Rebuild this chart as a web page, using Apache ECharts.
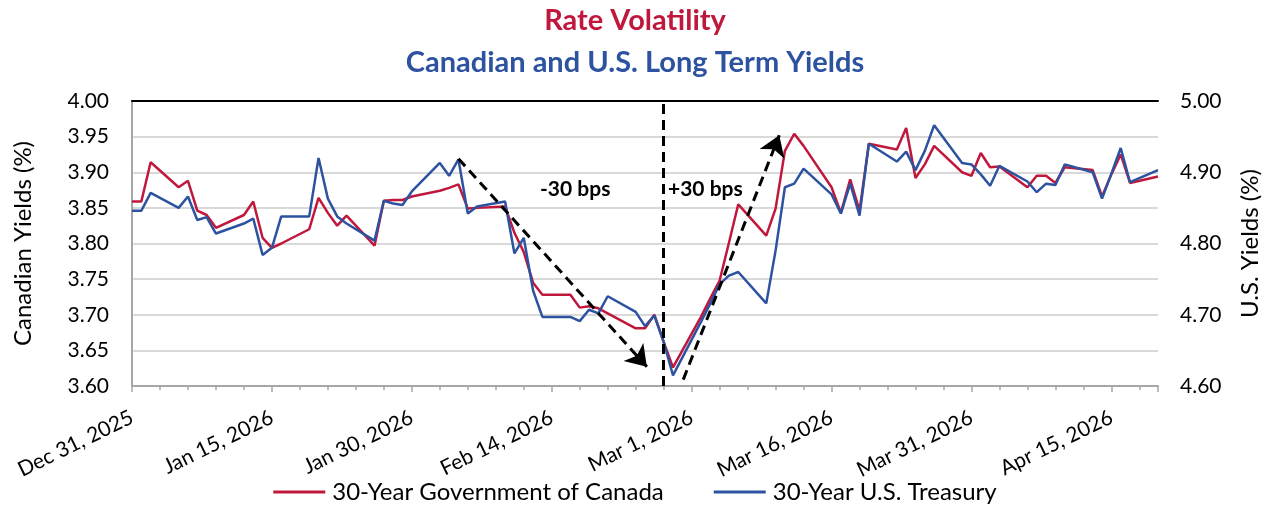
<!DOCTYPE html>
<html>
<head>
<meta charset="utf-8">
<script src="https://cdn.jsdelivr.net/npm/echarts@6/dist/echarts.min.js"></script>
<style>
html,body{margin:0;padding:0;background:#fff;}
#chart{width:1270px;height:509px;}
</style>
</head>
<body>
<div id="chart"></div>
<script>
const dates = [
'2025-12-31','2026-01-01','2026-01-02','2026-01-05','2026-01-06','2026-01-07','2026-01-08','2026-01-09',
'2026-01-12','2026-01-13','2026-01-14','2026-01-15','2026-01-16','2026-01-19','2026-01-20','2026-01-21',
'2026-01-22','2026-01-23','2026-01-26','2026-01-27','2026-01-28','2026-01-29','2026-01-30','2026-02-02',
'2026-02-03','2026-02-04','2026-02-05','2026-02-06','2026-02-09','2026-02-10','2026-02-11','2026-02-12',
'2026-02-13','2026-02-16','2026-02-17','2026-02-18','2026-02-19','2026-02-20','2026-02-23','2026-02-24',
'2026-02-25','2026-02-26','2026-02-27','2026-03-02','2026-03-03','2026-03-04','2026-03-05','2026-03-06',
'2026-03-09','2026-03-10','2026-03-11','2026-03-12','2026-03-13','2026-03-16','2026-03-17','2026-03-18',
'2026-03-19','2026-03-20','2026-03-23','2026-03-24','2026-03-25','2026-03-26','2026-03-27','2026-03-30',
'2026-03-31','2026-04-01','2026-04-02','2026-04-03','2026-04-06','2026-04-07','2026-04-08','2026-04-09',
'2026-04-10','2026-04-13','2026-04-14','2026-04-15','2026-04-16','2026-04-17','2026-04-20'
];
const canada30 = [
3.859,3.859,3.914,3.879,3.888,3.846,3.840,3.822,
3.840,3.859,3.808,3.794,3.800,3.820,3.864,3.843,
3.825,3.839,3.797,3.860,3.861,3.861,3.866,3.874,
3.878,3.883,3.849,3.850,3.852,3.815,3.788,3.745,
3.728,3.728,3.710,3.712,3.709,3.702,3.681,3.681,
3.700,3.662,3.626,3.697,3.723,3.748,3.801,3.855,
3.811,3.849,3.930,3.954,3.937,3.879,3.843,3.890,
3.846,3.940,3.932,3.962,3.892,3.911,3.937,3.900,
3.895,3.927,3.907,3.908,3.879,3.895,3.895,3.885,
3.907,3.903,3.866,3.897,3.925,3.885,3.894
];
const us30 = [
4.846,4.846,4.871,4.850,4.866,4.833,4.837,4.814,
4.828,4.835,4.784,4.794,4.838,4.838,4.920,4.863,
4.838,4.828,4.804,4.860,4.856,4.854,4.873,4.913,
4.895,4.918,4.842,4.852,4.859,4.786,4.808,4.734,
4.697,4.697,4.691,4.707,4.702,4.726,4.704,4.684,
4.699,4.662,4.615,4.690,4.716,4.743,4.755,4.760,
4.716,4.790,4.879,4.884,4.905,4.869,4.842,4.884,
4.839,4.940,4.915,4.929,4.903,4.930,4.966,4.913,
4.911,4.897,4.881,4.909,4.887,4.872,4.884,4.882,
4.911,4.900,4.863,4.898,4.934,4.886,4.903
];
const xStart = '2025-12-31';
const xEnd = '2026-04-20';
const leftTicks = ['3.60','3.65','3.70','3.75','3.80','3.85','3.90','3.95','4.00'];
const rightTicks = ['4.60','4.70','4.80','4.90','5.00'];
const markerDate = '2026-02-26';

const DAY = 86400000;
const base = Date.parse(xStart + 'T00:00:00Z');
function dayOf(s){ return Math.round((Date.parse(s + 'T00:00:00Z') - base) / DAY); }
const MONTHS = ['Jan','Feb','Mar','Apr','May','Jun','Jul','Aug','Sep','Oct','Nov','Dec'];
function fmtDay(v){
  const d = new Date(base + v * DAY);
  return MONTHS[d.getUTCMonth()] + ' ' + d.getUTCDate() + ', ' + d.getUTCFullYear();
}
const xs = dates.map(dayOf);
const redData = xs.map((x,i)=>[x, canada30[i]]);
const blueData = xs.map((x,i)=>[x, us30[i]]);
const FONT = 'Lato, "Noto Sans", sans-serif';
const RED = '#C0183C';
const BLUE = '#2D52A0';
const arrowStyle = {color:'#000', width:3, type:[10,6]};

const chart = echarts.init(document.getElementById('chart'), null, {renderer:'canvas'});
chart.setOption({
  animation:false,
  backgroundColor:'#fff',
  textStyle:{fontFamily:FONT},
  title:[
    {text:'Rate Volatility', left:'center', top:1,
     textStyle:{color:RED, fontSize:29, fontWeight:'bold', fontFamily:FONT}},
    {text:'Canadian and U.S. Long Term Yields', left:'center', top:43,
     textStyle:{color:BLUE, fontSize:29, fontWeight:'bold', fontFamily:FONT}}
  ],
  legend:{
    bottom:0, left:'center', itemGap:50, itemWidth:52, itemHeight:3,
    icon:'rect',
    textStyle:{fontSize:24, color:'#000', fontFamily:FONT, padding:[0,0,0,2]},
    data:['30-Year Government of Canada','30-Year U.S. Treasury']
  },
  grid:{left:132, right:112, top:101, bottom:123},
  xAxis:[{
    type:'value', min:0, max:dayOf(xEnd), interval:15,
    axisLine:{lineStyle:{color:'#A6A6A6', width:2}},
    axisTick:{show:true, length:6, lineStyle:{color:'#A6A6A6', width:1.5}},
    minorTick:{show:true, splitNumber:5, length:4, lineStyle:{color:'#A6A6A6', width:1.5}},
    splitLine:{show:false},
    axisLabel:{rotate:26, fontSize:21, color:'#000', margin:30, showMaxLabel:false,
      formatter:(v)=>fmtDay(v)}
  },{
    type:'value', position:'top', min:0, max:dayOf(xEnd),
    axisLine:{show:true, lineStyle:{color:'#000', width:2}},
    axisTick:{show:false}, axisLabel:{show:false}, splitLine:{show:false}
  }],
  yAxis:[{
    type:'value', min:3.6, max:4.0, interval:0.05, position:'left',
    name:'Canadian Yields (%)', nameLocation:'middle', nameRotate:90, nameGap:97,
    nameTextStyle:{fontSize:24, color:'#000'},
    axisLine:{show:true, lineStyle:{color:'#A6A6A6', width:2}},
    axisTick:{show:false},
    splitLine:{show:true, lineStyle:{color:'#D9D9D9', width:2}},
    axisLabel:{fontSize:21, color:'#000', margin:23, formatter:(v)=>leftTicks[Math.round((v-3.6)/0.05)]}
  },{
    type:'value', min:4.6, max:5.0, interval:0.1, position:'right',
    name:'U.S. Yields (%)', nameLocation:'middle', nameRotate:90, nameGap:80,
    nameTextStyle:{fontSize:24, color:'#000'},
    axisLine:{show:true, lineStyle:{color:'#A6A6A6', width:2}},
    axisTick:{show:false},
    splitLine:{show:false},
    axisLabel:{fontSize:21, color:'#000', margin:22, formatter:(v)=>rightTicks[Math.round((v-4.6)/0.1)]}
  }],
  series:[{
    name:'30-Year Government of Canada', type:'line', yAxisIndex:0, xAxisIndex:0,
    data:redData, showSymbol:false, symbol:'none',
    lineStyle:{color:RED, width:2.5}, itemStyle:{color:RED}, z:3,
    markLine:{
      silent:true, animation:false, symbol:['none','arrow'], symbolSize:20,
      label:{show:false},
      data:[
        [{coord:[dayOf(markerDate), 3.6], symbol:'none', lineStyle:{color:'#000', width:3, type:[10,6]}},
         {coord:[dayOf(markerDate), 4.0], symbol:'none'}],
        [{coord:[35.0, 3.919], symbol:'none', lineStyle:arrowStyle},
         {coord:[55.2, 3.627], symbol:'arrow'}],
        [{coord:[59.1, 3.609], symbol:'none', lineStyle:arrowStyle},
         {coord:[69.4, 3.952], symbol:'arrow'}]
      ]
    }
  },{
    name:'30-Year U.S. Treasury', type:'line', yAxisIndex:1, xAxisIndex:0,
    data:blueData, showSymbol:false, symbol:'none',
    lineStyle:{color:BLUE, width:2.5}, itemStyle:{color:BLUE}, z:4
  }],
  graphic:[
    {type:'text', left:540, top:179, style:{text:'-30 bps', font:'bold 21px '+FONT, fill:'#000'}},
    {type:'text', left:668, top:179, style:{text:'+30 bps', font:'bold 21px '+FONT, fill:'#000'}}
  ]
});
</script>
</body>
</html>
